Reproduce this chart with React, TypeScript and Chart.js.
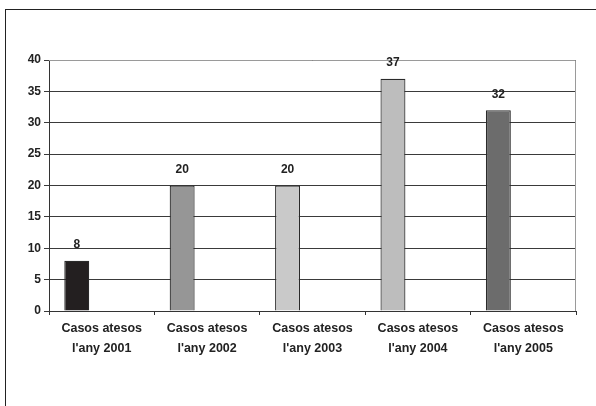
import React, { useEffect, useRef } from "react";
import { Chart, registerables } from "chart.js";

Chart.register(...registerables);

const categories: string[][] = [
  ["Casos atesos", "l'any 2001"],
  ["Casos atesos", "l'any 2002"],
  ["Casos atesos", "l'any 2003"],
  ["Casos atesos", "l'any 2004"],
  ["Casos atesos", "l'any 2005"],
];
const values: number[] = [8, 20, 20, 37, 32];
const emptySeries: (number | null)[] = [null, null, null, null, null];
const barColors: string[] = ["#231f20", "#969696", "#c9c9c9", "#bdbdbd", "#6c6c6c"];
const yTicks: number[] = [0, 5, 10, 15, 20, 25, 30, 35, 40];

const FONT = "'Liberation Sans', Arial, sans-serif";

const valueLabels = {
  id: "valueLabels",
  afterDatasetsDraw(chart: any) {
    const ctx = chart.ctx;
    const meta = chart.getDatasetMeta(0);
    ctx.save();
    ctx.font = `bold 12px ${FONT}`;
    ctx.fillStyle = "#222";
    ctx.textAlign = "center";
    ctx.textBaseline = "middle";
    meta.data.forEach((bar: any, i: number) => {
      const v = chart.data.datasets[0].data[i];
      if (v == null) return;
      ctx.fillText(String(v), bar.x, bar.y - 16);
    });
    ctx.restore();
  },
};

const plotFrame = {
  id: "plotFrame",
  beforeDatasetsDraw(chart: any) {
    const { ctx, chartArea } = chart;
    ctx.save();
    ctx.strokeStyle = "#9a9a9a";
    ctx.lineWidth = 1;
    ctx.beginPath();
    ctx.moveTo(chartArea.left, chartArea.top + 0.5);
    ctx.lineTo(chartArea.right - 0.5, chartArea.top + 0.5);
    ctx.lineTo(chartArea.right - 0.5, chartArea.bottom);
    ctx.stroke();
    ctx.restore();
  },
};

export default function App() {
  const ref = useRef<HTMLCanvasElement | null>(null);
  useEffect(() => {
    if (!ref.current) return;
    const chart = new Chart(ref.current, {
      type: "bar",
      data: {
        labels: categories,
        datasets: [
          {
            data: values,
            backgroundColor: barColors,
            borderColor: "#2a2a2a",
            borderWidth: 1.2,
            categoryPercentage: 0.71,
            barPercentage: 1,
          },
          { data: emptySeries, categoryPercentage: 0.71, barPercentage: 1 },
          { data: emptySeries, categoryPercentage: 0.71, barPercentage: 1 },
        ],
      },
      options: {
        animation: false,
        responsive: false,
        maintainAspectRatio: false,
        layout: { padding: { left: 0, top: 60, right: 20, bottom: 0 } },
        plugins: { legend: { display: false }, tooltip: { enabled: false } },
        scales: {
          x: {
            grid: {
              offset: true,
              drawOnChartArea: false,
              drawTicks: true,
              tickLength: 4,
              color: "#333",
            },
            border: { color: "#333", width: 1 },
            ticks: {
              font: { family: FONT, size: 12.5, weight: "bold", lineHeight: 1.55 },
              color: "#222",
              padding: 4,
              maxRotation: 0,
              autoSkip: false,
            },
            afterFit: (s: any) => {
              s.height = 95;
            },
          },
          y: {
            min: 0,
            max: 40,
            afterBuildTicks: (s: any) => {
              s.ticks = yTicks.map((v) => ({ value: v }));
            },
            grid: { color: "#3a3a3a", tickLength: 5 },
            border: { color: "#333", width: 1 },
            ticks: {
              font: { family: FONT, size: 12, weight: "bold" },
              color: "#222",
              padding: 3,
            },
            afterFit: (s: any) => {
              s.width = 49;
            },
          },
        },
      },
      plugins: [plotFrame, valueLabels],
    });
    return () => chart.destroy();
  }, []);
  return (
    <div
      style={{
        position: "fixed",
        left: 0,
        top: 0,
        width: 596,
        height: 406,
        overflow: "hidden",
        background: "#fff",
      }}
    >
      <div
        style={{
          position: "absolute",
          left: 5,
          top: 9,
          width: 700,
          height: 600,
          border: "1.5px solid #222",
          boxSizing: "border-box",
        }}
      />
      <canvas
        ref={ref}
        width={596}
        height={406}
        style={{ position: "absolute", left: 0, top: 0, width: 596, height: 406 }}
      />
    </div>
  );
}
